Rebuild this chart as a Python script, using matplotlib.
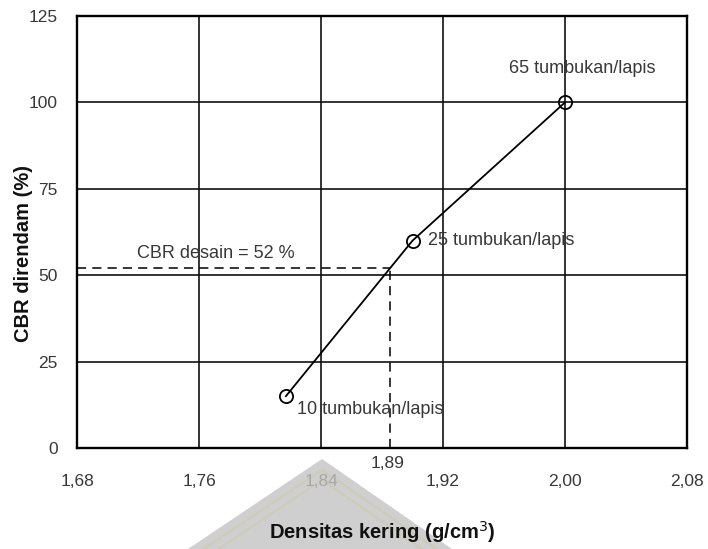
import numpy as np
import matplotlib
matplotlib.use('Agg')
import matplotlib.pyplot as plt
from matplotlib.patches import Polygon

# hasil uji CBR rendaman untuk tiga variasi jumlah tumbukan
tumbukan = ['10 tumbukan/lapis', '25 tumbukan/lapis', '65 tumbukan/lapis']
densitas = [1.817, 1.900, 2.000]
cbr = [15, 60, 100]
cbr_desain = 52

x_ticks = [1.68, 1.76, 1.84, 1.92, 2.00, 2.08]
y_ticks = [0, 25, 50, 75, 100, 125]

plt.rcParams['font.family'] = ['Liberation Sans', 'DejaVu Sans']
txt_col = '#383838'

fig = plt.figure(figsize=(7.08, 5.49), dpi=100)
W, H = 708, 549

# logo samar di bawah grafik
roof = Polygon([(188 / W, 0), (322 / W, 1 - 459 / H), (452 / W, 0)],
               closed=True, transform=fig.transFigure, facecolor='#c4c4c4',
               edgecolor='none', alpha=0.8, zorder=0)
fig.patches.append(roof)
for y0, lw in [(470, 2.0), (480, 2.0)]:
    fig.add_artist(plt.Line2D([322 / W - (549 - y0) * 1.5 / W, 322 / W,
                               322 / W + (549 - y0) * 1.45 / W],
                              [0, 1 - y0 / H, 0],
                              transform=fig.transFigure, color='#f3ec8c',
                              lw=lw, alpha=0.85, zorder=0))

ax = fig.add_axes([77 / W, 1 - 448 / H, 610 / W, 432 / H])
ax.set_xlim(1.68, 2.08)
ax.set_ylim(0, 125)

ax.set_xticks(x_ticks)
ax.set_xticklabels([f'{v:.2f}'.replace('.', ',') for v in x_ticks])
ax.set_yticks(y_ticks)
ax.set_yticklabels([str(v) for v in y_ticks])
ax.tick_params(length=0, labelsize=12.5, colors=txt_col)
ax.tick_params(axis='x', pad=19)
ax.tick_params(axis='y', pad=14)
ax.grid(True, color='#111111', lw=1.2)
ax.set_axisbelow(True)
for s in ax.spines.values():
    s.set_linewidth(1.7)
    s.set_color('black')

ax.plot(densitas, cbr, color='black', lw=1.3, marker='o', ms=9.5,
        mfc='none', mec='black', mew=1.3, zorder=3)

# garis bantu CBR desain
dens_desain = np.interp(cbr_desain, cbr, densitas)
ax.plot([1.68, dens_desain], [cbr_desain, cbr_desain], color='black', lw=1.1,
        ls=(0, (6, 4)), zorder=2)
ax.plot([dens_desain, dens_desain], [0, cbr_desain], color='black', lw=1.1,
        ls=(0, (6, 4)), zorder=2)
ax.annotate(f'CBR desain = {cbr_desain} %', (1.771, cbr_desain),
            xytext=(0, 15), textcoords='offset pixels', ha='center',
            va='center', fontsize=13, color=txt_col)
ax.annotate(f'{dens_desain:.2f}'.replace('.', ','), (dens_desain, 0),
            xytext=(-2, -15), textcoords='offset pixels', ha='center',
            va='center', fontsize=12.5, color=txt_col, annotation_clip=False)

offsets = [((11, -13), 'left'), ((15, 0), 'left'), ((17, 34), 'center')]
for lbl, xv, yv, (off, ha) in zip(tumbukan, densitas, cbr, offsets):
    ax.annotate(lbl, (xv, yv), xytext=off, textcoords='offset pixels',
                ha=ha, va='center', fontsize=13, color=txt_col)

fig.text(382 / W, 1 - 532 / H, 'Densitas kering (g/cm$^3$)', ha='center',
         va='center', fontsize=14.5, fontweight='bold', color='#111111')
fig.text(24 / W, 1 - 253 / H, 'CBR direndam (%)', ha='center', va='center',
         rotation=90, fontsize=14.5, fontweight='bold', color='#111111')

fig.savefig('out.png', dpi=100)
